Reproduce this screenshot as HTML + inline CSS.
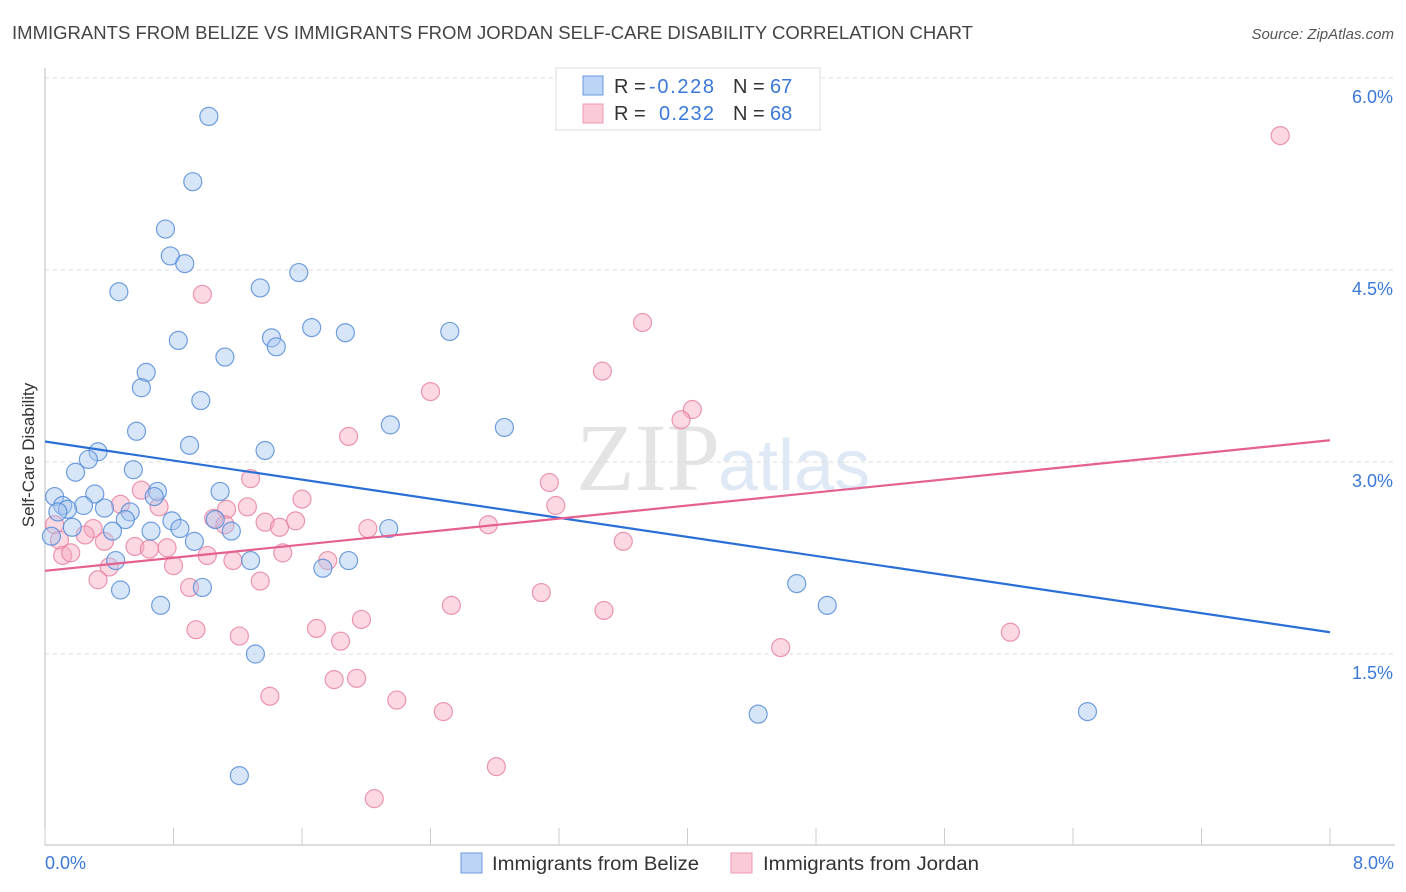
<!DOCTYPE html>
<html><head><meta charset="utf-8"><style>
body{margin:0;background:#fff;font-family:"Liberation Sans",sans-serif;}
#wrap{position:relative;width:1406px;height:892px;overflow:hidden;}
</style></head><body>
<div id="wrap">
<svg id="svg" width="1406" height="892" xmlns="http://www.w3.org/2000/svg">
<text x="12" y="39" font-size="18" fill="#444" textLength="961" lengthAdjust="spacingAndGlyphs">IMMIGRANTS FROM BELIZE VS IMMIGRANTS FROM JORDAN SELF-CARE DISABILITY CORRELATION CHART</text>
<text x="1394" y="39" font-size="15" fill="#555" text-anchor="end" font-style="italic">Source: ZipAtlas.com</text>
<text x="720" y="490" font-size="96" fill="#e4e4e4" text-anchor="end" font-family="Liberation Serif">ZIP</text>
<text x="718" y="490" font-size="72" fill="#dfe8f5">atlas</text>
<text transform="translate(34,455) rotate(-90)" font-size="17" fill="#333" text-anchor="middle">Self-Care Disability</text>
<g id="grid"></g><g id="axes"></g><g id="pts"></g><g id="trend"></g>
<g>
<rect x="556" y="68" width="264" height="62" fill="#fff" stroke="#ddd"/>
<rect x="583" y="76" width="20" height="19" fill="#bcd4f5" stroke="#6a9ae0"/>
<rect x="583" y="104" width="20" height="19" fill="#fbcad7" stroke="#ec9ab2"/>
<text x="614" y="93" font-size="20" fill="#333">R = </text><text x="649" y="93" font-size="20" fill="#3b78d8" textLength="65">-0.228</text>
<text x="733" y="93" font-size="20" fill="#333">N = </text><text x="770" y="93" font-size="20" fill="#3b78d8">67</text>
<text x="614" y="120" font-size="20" fill="#333">R = </text><text x="659" y="120" font-size="20" fill="#3b78d8" textLength="55">0.232</text>
<text x="733" y="120" font-size="20" fill="#333">N = </text><text x="770" y="120" font-size="20" fill="#3b78d8">68</text>
</g>
<text x="45" y="869" font-size="18" fill="#3b78d8">0.0%</text>
<text x="1394" y="869" font-size="18" fill="#3b78d8" text-anchor="end">8.0%</text>
<g>
<rect x="461" y="853" width="21" height="20" fill="#bcd4f5" stroke="#6a9ae0"/>
<text x="492" y="870" font-size="19" fill="#333" textLength="207" lengthAdjust="spacingAndGlyphs">Immigrants from Belize</text>
<rect x="731" y="853" width="21" height="20" fill="#fbcad7" stroke="#ec9ab2"/>
<text x="763" y="870" font-size="19" fill="#333" textLength="216" lengthAdjust="spacingAndGlyphs">Immigrants from Jordan</text>
</g>
</svg>
</div>
<script>
const belizeX=[1.02,0.92,0.75,0.78,0.87,1.58,0.46,1.34,0.83,1.66,1.87,2.52,1.41,1.44,1.12,0.63,0.60,0.97,2.15,2.86,0.57,0.90,1.37,0.33,0.27,0.19,0.55,0.06,0.31,0.70,1.09,0.11,0.24,0.37,0.14,0.08,0.53,0.50,0.68,0.79,0.84,1.06,1.16,2.14,0.66,0.42,0.17,0.93,0.04,1.28,0.44,1.89,1.73,0.47,0.98,0.72,4.68,4.87,1.31,4.44,6.49,1.21];
const belizeY=[5.70,5.19,4.82,4.61,4.55,4.48,4.33,4.36,3.95,4.05,4.01,4.02,3.97,3.90,3.82,3.70,3.58,3.48,3.29,3.27,3.24,3.13,3.09,3.08,3.02,2.92,2.94,2.73,2.75,2.77,2.77,2.66,2.66,2.64,2.63,2.61,2.61,2.55,2.73,2.54,2.48,2.55,2.46,2.48,2.46,2.46,2.49,2.38,2.42,2.23,2.23,2.23,2.17,2.00,2.02,1.88,2.05,1.88,1.50,1.03,1.05,0.55];
const jordanX=[7.69,0.98,3.72,3.47,2.40,4.03,3.96,1.89,3.14,1.28,0.60,1.60,0.47,0.71,1.26,1.13,1.05,1.37,1.56,1.46,1.12,2.76,2.01,3.18,3.60,0.30,0.06,0.09,0.25,0.37,0.56,0.65,0.76,0.11,0.16,0.40,0.80,1.01,1.17,1.48,1.76,0.33,0.90,1.34,3.09,2.53,3.48,1.97,0.94,1.69,1.21,1.84,4.58,6.01,1.80,1.94,1.40,2.19,2.48,2.81,2.05];
const jordanY=[5.55,4.31,4.09,3.71,3.55,3.41,3.33,3.20,2.84,2.87,2.78,2.71,2.67,2.65,2.65,2.63,2.56,2.53,2.54,2.49,2.51,2.51,2.48,2.66,2.38,2.48,2.51,2.39,2.43,2.38,2.34,2.32,2.33,2.27,2.29,2.18,2.19,2.27,2.23,2.29,2.23,2.08,2.02,2.07,1.98,1.88,1.84,1.77,1.69,1.70,1.64,1.60,1.55,1.67,1.30,1.31,1.17,1.14,1.05,0.62,0.37];
const belizeTrend=[3.16,1.67];
const jordanTrend=[2.15,3.17];
const yTicks=[1.5,3.0,4.5,6.0];
const yTickLabels=["1.5%","3.0%","4.5%","6.0%"];
const xTicks=[0,0.8,1.6,2.4,3.2,4.0,4.8,5.6,6.4,7.2,8.0];
const NS="http://www.w3.org/2000/svg";
function sx(v){return 45+v*1285/8;}
function sy(v){return 654-(v-1.5)*128;}
function mk(tag,attrs,parent){const e=document.createElementNS(NS,tag);for(const k in attrs)e.setAttribute(k,attrs[k]);parent.appendChild(e);return e;}
const grid=document.getElementById('grid'),axes=document.getElementById('axes'),pts=document.getElementById('pts'),trend=document.getElementById('trend');
yTicks.forEach((t,i)=>{
 const l=mk('line',{x1:45,x2:1395,y1:sy(t),y2:sy(t),stroke:'#ddd','stroke-dasharray':'4,4'},grid);
 
 
 const tx=mk('text',{x:1393,y:sy(t)+25,'font-size':18,fill:'#3b78d8','text-anchor':'end'},grid);
 tx.textContent=yTickLabels[i];
 
 
});
const la=mk('line',{x1:45,x2:45,y1:68,y2:845,stroke:'#bbb'},axes);


const ba=mk('line',{x1:45,x2:1395,y1:845,y2:845,stroke:'#bbb'},axes);


xTicks.forEach(t=>{
 const l=mk('line',{x1:sx(t),x2:sx(t),y1:828,y2:845,stroke:'#ccc'},axes);
 
 
});
function series(X,Y,fill,stroke,name){
 X.forEach((x,i)=>{
  const c=mk('circle',{cx:sx(x),cy:sy(Y[i]),r:9,fill:fill,'fill-opacity':0.45,stroke:stroke,'stroke-width':1.2,'stroke-opacity':0.8},pts);
  
  
 });
}
series(jordanX,jordanY,'#f7a8bf','#e67e9e','jordan-point');
series(belizeX,belizeY,'#a6c6f0','#4f87d6','belize-point');
const t1=mk('line',{x1:sx(0),y1:sy(belizeTrend[0]),x2:sx(8),y2:sy(belizeTrend[1]),stroke:'#2a6fd6','stroke-width':2.2},trend);


const t2=mk('line',{x1:sx(0),y1:sy(jordanTrend[0]),x2:sx(8),y2:sy(jordanTrend[1]),stroke:'#e4608e','stroke-width':2.2},trend);


</script>
</body></html>
